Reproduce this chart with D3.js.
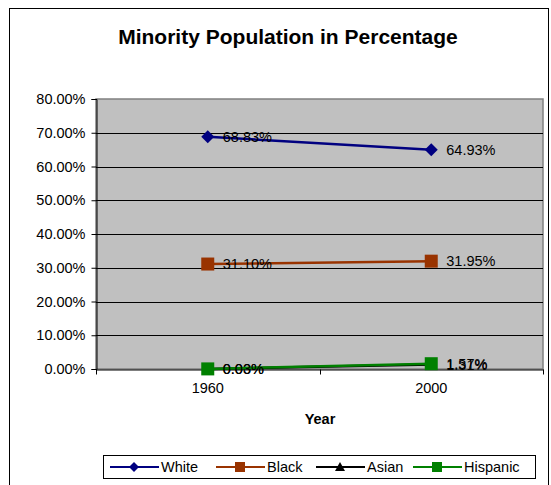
<!DOCTYPE html>
<html>
<head>
<meta charset="utf-8">
<script src="https://cdn.jsdelivr.net/npm/d3@7"></script>
<style>
  body { margin: 0; background: #fff; }
  svg { font-family: Arial, "Liberation Sans", sans-serif; }
</style>
</head>
<body>
<svg id="chart" width="551" height="485"></svg>
<script>
(function () {
  const years = ["1960", "2000"];
  const seriesNames = ["White", "Black", "Asian", "Hispanic"];
  const white = [68.83, 64.93];
  const black = [31.10, 31.95];
  const asian = [0.00, 1.31];
  const hispanic = [0.03, 1.57];
  const yTicks = [0, 10, 20, 30, 40, 50, 60, 70, 80];

  const colors = ["#000080", "#993300", "#000000", "#008000"];
  const shapes = ["diamond", "square", "triangle", "square"];
  const values = [white, black, asian, hispanic];

  const svg = d3.select("#chart");
  const plot = { left: 96, right: 543, top: 99, bottom: 369 };

  // outer chart border
  svg.append("rect")
    .attr("x", 9.5).attr("y", 8.5)
    .attr("width", 539).attr("height", 520)
    .attr("fill", "#fff").attr("stroke", "#000").attr("stroke-width", 1);

  svg.append("text")
    .attr("x", 288).attr("y", 44)
    .attr("text-anchor", "middle")
    .attr("style", "font-size: 21px; font-weight: bold;")
    .text("Minority Population in Percentage");

  const x = d3.scaleBand().domain(years).range([plot.left, plot.right]);
  const y = d3.scaleLinear().domain([0, 80]).range([plot.bottom, plot.top]);

  svg.append("rect")
    .attr("x", plot.left).attr("y", plot.top)
    .attr("width", plot.right - plot.left).attr("height", plot.bottom - plot.top)
    .attr("fill", "#c0c0c0").attr("stroke", "#808080").attr("stroke-width", 1.5);

  // gridlines
  svg.append("g")
    .selectAll("line")
    .data(yTicks.filter((t) => t > 0 && t < 80))
    .join("line")
    .attr("x1", plot.left).attr("x2", plot.right)
    .attr("y1", (d) => Math.round(y(d)) + 0.5).attr("y2", (d) => Math.round(y(d)) + 0.5)
    .attr("stroke", "#000").attr("stroke-width", 1);

  // y axis
  const yAxis = svg.append("g")
    .attr("transform", `translate(${plot.left + 0.5},0)`)
    .call(d3.axisLeft(y).tickValues(yTicks).tickSize(5).tickPadding(6)
      .tickFormat((d) => d.toFixed(2) + "%"));
  yAxis.select(".domain").attr("stroke", "#000");
  yAxis.selectAll("text").attr("style", "font-size: 14.5px;").attr("fill", "#000");

  // x axis
  const xAxis = svg.append("g")
    .attr("transform", `translate(0,${plot.bottom + 0.5})`)
    .call(d3.axisBottom(x).tickSize(0).tickPadding(13));
  xAxis.select(".domain").attr("stroke", "#000");
  xAxis.selectAll("text").attr("style", "font-size: 14.5px;").attr("fill", "#000");
  xAxis.selectAll(".sep")
    .data([plot.left, (plot.left + plot.right) / 2, plot.right])
    .join("line")
    .attr("x1", (d) => Math.round(d) + 0.5).attr("x2", (d) => Math.round(d) + 0.5)
    .attr("y1", 0).attr("y2", 5)
    .attr("stroke", "#000");

  svg.append("text")
    .attr("x", 320).attr("y", 424)
    .attr("text-anchor", "middle")
    .attr("style", "font-size: 14.5px; font-weight: bold;")
    .text("Year");

  const cx = (i) => x(years[i]) + x.bandwidth() / 2;

  function marker(g, shape, color, px, py, s) {
    if (shape === "diamond") {
      g.append("path")
        .attr("d", `M${px},${py - s}L${px + s},${py}L${px},${py + s}L${px - s},${py}Z`)
        .attr("fill", color);
    } else if (shape === "square") {
      g.append("rect")
        .attr("x", px - s).attr("y", py - s)
        .attr("width", 2 * s).attr("height", 2 * s)
        .attr("fill", color);
    } else {
      g.append("path")
        .attr("d", `M${px},${py - s}L${px + s},${py + s * 0.8}L${px - s},${py + s * 0.8}Z`)
        .attr("fill", color);
    }
  }

  const line = d3.line().x((d, i) => cx(i)).y((d) => y(d));
  const sizes = [6.5, 6.5, 6, 6.5];

  values.forEach((vals, k) => {
    const g = svg.append("g");
    g.append("path")
      .datum(vals)
      .attr("d", line)
      .attr("fill", "none")
      .attr("stroke", colors[k])
      .attr("stroke-width", 2.5);
    vals.forEach((v, i) => marker(g, shapes[k], colors[k], cx(i), y(v), sizes[k]));
    g.selectAll("text.lbl")
      .data(vals)
      .join("text")
      .attr("class", "lbl")
      .attr("x", (d, i) => cx(i) + 15)
      .attr("y", (d) => y(d) + 5)
      .attr("style", "font-size: 14.5px;")
      .attr("fill", "#000")
      .text((d) => d.toFixed(2) + "%");
  });

  // legend
  const lg = svg.append("g");
  lg.append("rect")
    .attr("x", 103.5).attr("y", 455.5)
    .attr("width", 432).attr("height", 23)
    .attr("fill", "#fff").attr("stroke", "#000");
  const legendX = [110, 216, 316, 413];
  seriesNames.forEach((name, k) => {
    const lx = legendX[k];
    const ly = 467;
    lg.append("line")
      .attr("x1", lx).attr("x2", lx + 49)
      .attr("y1", ly).attr("y2", ly)
      .attr("stroke", colors[k]).attr("stroke-width", 2);
    marker(lg, shapes[k], colors[k], lx + 24, ly, 5);
    lg.append("text")
      .attr("x", lx + 51).attr("y", ly + 5)
      .attr("style", "font-size: 14.5px;")
      .text(name);
  });
})();
</script>
</body>
</html>
